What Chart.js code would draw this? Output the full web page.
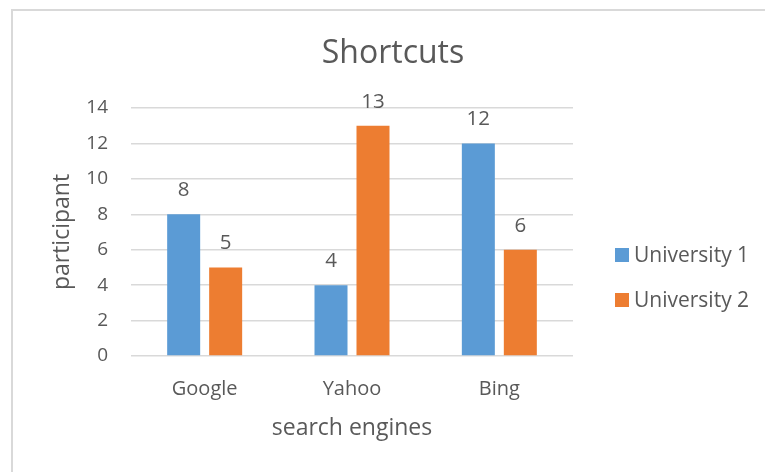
<!DOCTYPE html>
<html>
<head>
<meta charset="utf-8">
<script src="https://cdn.jsdelivr.net/npm/chart.js@4.4.0/dist/chart.umd.min.js"></script>
<style>
  html, body { margin: 0; padding: 0; background: #ffffff; overflow: hidden; width: 765px; height: 472px; }
  #frame { position: absolute; left: 11px; top: 9px; width: 762px; height: 470px; border: 2px solid #d9d9d9; background: #fff; }
  #c { display: block; }
</style>
</head>
<body>
<div id="frame"><canvas id="c" width="762" height="470"></canvas></div>
<script>
const categories = ["Google", "Yahoo", "Bing"];
const seriesNames = ["University 1", "University 2"];
const university1 = [8, 4, 12];
const university2 = [5, 13, 6];
const yTicks = [0, 2, 4, 6, 8, 10, 12, 14];
const chartTitle = "Shortcuts";

const colors = ["#5B9BD5", "#ED7D31"];
const textColor = "#595959";
const FONT = "'Open Sans', sans-serif";

const labelPlugin = {
  id: 'valueLabels',
  afterDatasetsDraw(chart) {
    const ctx = chart.ctx;
    ctx.save();
    ctx.fillStyle = textColor;
    ctx.font = "20.5px " + FONT;
    ctx.textAlign = 'center';
    ctx.textBaseline = 'alphabetic';
    chart.data.datasets.forEach((ds, i) => {
      const meta = chart.getDatasetMeta(i);
      meta.data.forEach((bar, j) => {
        ctx.fillText(String(ds.data[j]), bar.x, bar.y - 18);
      });
    });
    ctx.restore();
  }
};

const titleLegendPlugin = {
  id: 'titleLegend',
  afterDraw(chart) {
    const ctx = chart.ctx;
    ctx.save();
    // title centred on the whole chart frame
    ctx.fillStyle = textColor;
    ctx.font = "32px " + FONT;
    ctx.textAlign = 'center';
    ctx.textBaseline = 'middle';
    ctx.fillText(chartTitle, chart.width / 2 - 1, 43);
    // legend
    ctx.font = "21px " + FONT;
    ctx.textAlign = 'left';
    const x0 = chart.chartArea.right + 42;
    const yc = [244, 289];
    chart.data.datasets.forEach((ds, i) => {
      ctx.fillStyle = ds.backgroundColor;
      ctx.fillRect(x0, yc[i] - 7, 14, 14);
      ctx.fillStyle = textColor;
      ctx.fillText(ds.label, x0 + 19, yc[i] + 1);
    });
    ctx.restore();
  }
};

new Chart(document.getElementById('c'), {
  type: 'bar',
  data: {
    labels: categories,
    datasets: [
      { label: seriesNames[0], data: university1, backgroundColor: colors[0] },
      { label: seriesNames[1], data: university2, backgroundColor: colors[1] }
    ]
  },
  options: {
    responsive: false,
    animation: false,
    devicePixelRatio: 1,
    categoryPercentage: 0.57,
    barPercentage: 0.786,
    layout: { padding: { left: 0, right: 202, top: 97, bottom: 0 } },
    plugins: {
      legend: { display: false },
      tooltip: { enabled: false },
      title: { display: false }
    },
    scales: {
      x: {
        grid: { display: false, drawTicks: false },
        border: { display: false },
        ticks: { color: textColor, font: { family: FONT, size: 20 }, padding: 21 },
        title: {
          display: true, text: 'search engines', color: textColor,
          font: { family: FONT, size: 23, lineHeight: 1.2 },
          padding: { top: 0, bottom: 39 }
        },
        afterFit(scale) { scale.height = 125; }
      },
      y: {
        min: 0, max: 14,
        afterBuildTicks(scale) { scale.ticks = yTicks.map(v => ({ value: v })); },
        grid: { color: '#d9d9d9', lineWidth: 1.5, drawTicks: false },
        border: { display: false },
        ticks: { color: textColor, font: { family: FONT, size: 19 }, padding: 23 },
        title: {
          display: true, text: 'participant', color: textColor,
          font: { family: FONT, size: 23, lineHeight: 1.2 },
          padding: { top: 36 }
        },
        afterFit(scale) { scale.width = 118; }
      }
    }
  },
  plugins: [labelPlugin, titleLegendPlugin]
});
</script>
</body>
</html>
